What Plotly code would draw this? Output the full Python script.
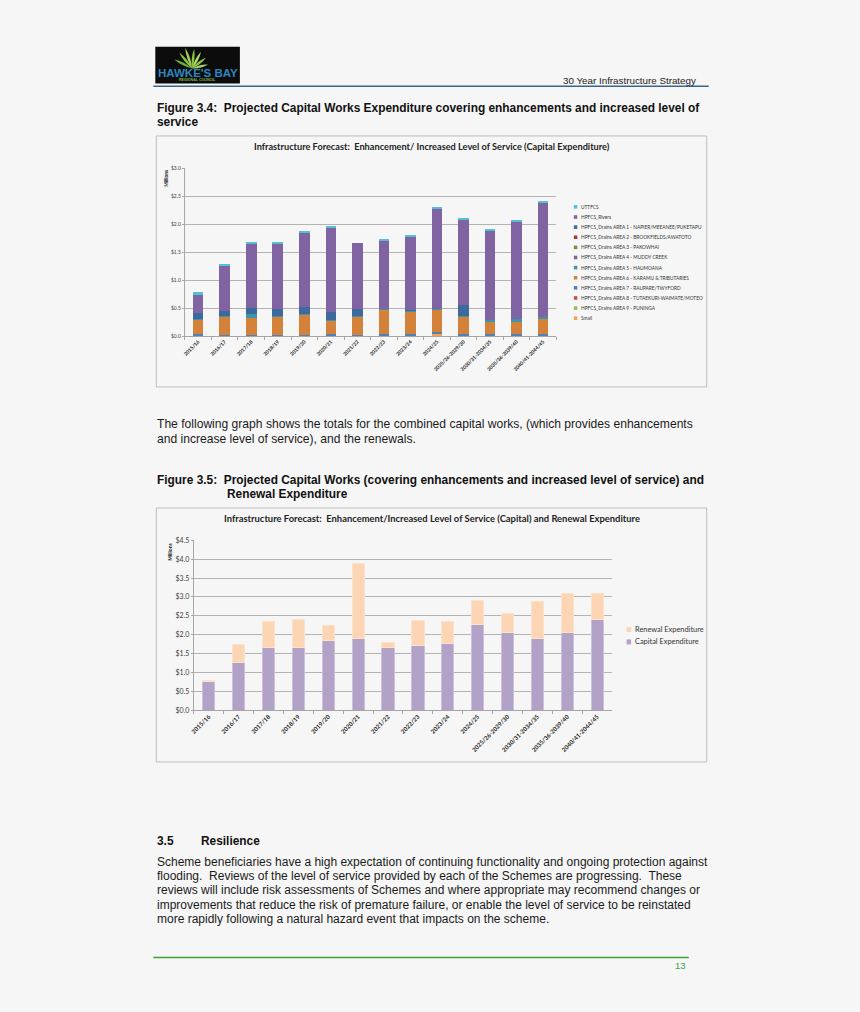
import plotly.graph_objects as go

W, H = 860, 1012
def px(x): return x / W
def py(y): return 1 - y / H

# ---------------- data ----------------
categories = ["2015/16", "2016/17", "2017/18", "2018/19", "2019/20", "2020/21", "2021/22",
              "2022/23", "2023/24", "2024/25", "2025/26-2029/30", "2030/31-2034/35",
              "2035/36-2039/40", "2040/41-2044/45"]

# Figure 3.4 series ($ millions), bottom of stack first
small  = [0, 0, 0, 0, 0, 0, 0, 0, 0, 0.04, 0, 0, 0, 0]
area9  = [0, 0, 0, 0, 0, 0, 0, 0, 0, 0, 0, 0, 0, 0]
area8  = [0, 0, 0, 0, 0, 0, 0, 0, 0, 0, 0, 0, 0, 0]
area7  = [0.03, 0.025, 0.025, 0.025, 0.025, 0.03, 0.025, 0.03, 0.03, 0.025, 0.03, 0.04, 0.03, 0.04]
area6  = [0.255, 0.315, 0.295, 0.315, 0.35, 0.25, 0.315, 0.44, 0.405, 0.41, 0.315, 0.21, 0.23, 0.26]
area5  = [0.015, 0.01, 0.07, 0.015, 0.015, 0.01, 0.015, 0.015, 0.02, 0.015, 0.015, 0.03, 0.04, 0.045]
area4  = [0, 0, 0, 0, 0, 0, 0, 0, 0, 0, 0, 0, 0, 0]
area3  = [0, 0, 0, 0, 0, 0, 0, 0, 0, 0, 0, 0, 0, 0]
area2  = [0, 0, 0, 0, 0, 0, 0, 0, 0, 0, 0, 0, 0, 0]
area1  = [0.105, 0.096, 0.11, 0.125, 0.13, 0.14, 0.125, 0, 0.005, 0, 0.19, 0, 0, 0]
rivers = [0.34, 0.81, 1.15, 1.17, 1.32, 1.50, 1.19, 1.215, 1.31, 1.78, 1.52, 1.605, 1.75, 2.045]
uttfcs = [0.035, 0.035, 0.03, 0.03, 0.04, 0.02, 0.0, 0.03, 0.03, 0.03, 0.02, 0.02, 0.03, 0.02]

series_names = ["Small", "HPFCS_Drains AREA 9 - PUNINGA", "HPFCS_Drains AREA 8 - TUTAEKURI-WAIMATE/MOTEO",
                "HPFCS_Drains AREA 7 - RAUPARE/TWYFORD", "HPFCS_Drains AREA 6 - KARAMU & TRIBUTARIES",
                "HPFCS_Drains AREA 5 - HAUMOANA", "HPFCS_Drains AREA 4 - MUDDY CREEK",
                "HPFCS_Drains AREA 3 - PAKOWHAI", "HPFCS_Drains AREA 2 - BROOKFIELDS/AWATOTO",
                "HPFCS_Drains AREA 1 - NAPIER/MEEANEE/PUKETAPU", "HPFCS_Rivers", "UTTFCS"]
series_vals = [small, area9, area8, area7, area6, area5, area4, area3, area2, area1, rivers, uttfcs]
series_colors = ["#F9A04F", "#9BBB59", "#C0504D", "#4F81BD", "#D4823A", "#3C95AE",
                 "#8064A2", "#77933C", "#A33B38", "#3D6A9E", "#8064A2", "#55BFD8"]

# Figure 3.5 series ($ millions)
capital = [0.77, 1.27, 1.65, 1.65, 1.85, 1.91, 1.65, 1.70, 1.77, 2.27, 2.06, 1.89, 2.05, 2.39]
renewal = [0.01, 0.48, 0.70, 0.74, 0.40, 1.97, 0.15, 0.68, 0.58, 0.64, 0.50, 0.99, 1.05, 0.69]

y1_ticks = [0, 0.5, 1.0, 1.5, 2.0, 2.5, 3.0]
y1_labels = ["$0.0", "$0.5", "$1.0", "$1.5", "$2.0", "$2.5", "$3.0"]
y2_ticks = [0, 0.5, 1.0, 1.5, 2.0, 2.5, 3.0, 3.5, 4.0, 4.5]
y2_labels = ["$0.0", "$0.5", "$1.0", "$1.5", "$2.0", "$2.5", "$3.0", "$3.5", "$4.0", "$4.5"]

BG = "#f6f6f6"
CHART_FONT = "Lato"
BODY_FONT = "Liberation Sans"

fig = go.Figure()

for name, vals, col in zip(series_names, series_vals, series_colors):
    fig.add_trace(go.Bar(x=categories, y=vals, name=name, marker=dict(color=col, line=dict(width=0)),
                         width=0.4, xaxis="x", yaxis="y", showlegend=False))

fig.add_trace(go.Bar(x=categories, y=capital, name="Capital Expenditure",
                     marker=dict(color="#B3A2C7", line=dict(color="#CDC0DC", width=1)),
                     width=0.41, xaxis="x2", yaxis="y2", showlegend=False))
fig.add_trace(go.Bar(x=categories, y=renewal, name="Renewal Expenditure",
                     marker=dict(color="#FCD5B5", line=dict(color="#FDE2CB", width=1)),
                     width=0.41, xaxis="x2", yaxis="y2", showlegend=False))

axis_common = dict(showline=True, linecolor="#a6a6a6", linewidth=1, zeroline=False)

fig.update_layout(
    width=W, height=H, autosize=False,
    margin=dict(l=0, r=0, t=0, b=0),
    paper_bgcolor=BG, plot_bgcolor=BG,
    barmode="stack",
    xaxis=dict(domain=[px(181.7), px(555)], anchor="y", type="category", showgrid=False,
               ticks="outside", tickson="boundaries", ticklen=3, tickcolor="#a6a6a6",
               tickangle=-45, tickfont=dict(family=CHART_FONT, size=5, color="#222", weight="bold"),
               **axis_common),
    yaxis=dict(domain=[py(333.7), py(164.7)], anchor="x", range=[0, 3], tickvals=y1_ticks,
               ticktext=y1_labels, showgrid=True, gridcolor="#b3b3b3", gridwidth=1,
               ticks="outside", ticklen=2, tickcolor="#a6a6a6",
               tickfont=dict(family=CHART_FONT, size=5, color="#404040"), **axis_common),
    xaxis2=dict(domain=[px(190.7), px(611)], anchor="y2", type="category", showgrid=False,
                ticks="outside", tickson="boundaries", ticklen=3, tickcolor="#a6a6a6",
                tickangle=-45, tickfont=dict(family=CHART_FONT, size=6, color="#222", weight="bold"),
                **axis_common),
    yaxis2=dict(domain=[py(710.7), py(539.7)], anchor="x2", range=[0, 4.5], tickvals=y2_ticks,
                ticktext=y2_labels, showgrid=True, gridcolor="#b3b3b3", gridwidth=1,
                ticks="outside", ticklen=2, tickcolor="#a6a6a6",
                tickfont=dict(family=CHART_FONT, size=7, color="#404040"), **axis_common),
)

shapes = []
ann = []

def rect(x0, y0, x1, y1, fill=None, line=None, lw=1):
    shapes.append(dict(type="rect", xref="paper", yref="paper", x0=px(x0), x1=px(x1), y0=py(y1), y1=py(y0),
                       fillcolor=fill if fill else "rgba(0,0,0,0)",
                       line=dict(color=line if line else "rgba(0,0,0,0)", width=lw if line else 0), layer="below"))

def hline(x0, x1, y, color, w):
    shapes.append(dict(type="line", xref="paper", yref="paper", x0=px(x0), x1=px(x1), y0=py(y), y1=py(y),
                       line=dict(color=color, width=w)))

def text(x, y, s, size, color="#111", bold=False, family=BODY_FONT, xanchor="left", angle=0):
    ann.append(dict(x=px(x), y=py(y), xref="paper", yref="paper", text=s, showarrow=False,
                    xanchor=xanchor, yanchor="middle", textangle=angle,
                    font=dict(family=family, size=size, color=color, weight="bold" if bold else "normal")))

# ---------------- header ----------------
rect(152, 42, 237, 79, fill="#0c0c0c")
def leaf(bx, by, tx, ty, w, color):
    mx, my = (bx + tx) / 2, (by + ty) / 2
    dx, dy = tx - bx, ty - by
    L = (dx * dx + dy * dy) ** 0.5
    nx, ny = -dy / L * w, dx / L * w
    p = "M {:.5f},{:.5f} Q {:.5f},{:.5f} {:.5f},{:.5f} Q {:.5f},{:.5f} {:.5f},{:.5f} Z".format(
        px(bx), py(by), px(mx + nx), py(my + ny), px(tx), py(ty), px(mx - nx), py(my - ny), px(bx), py(by))
    shapes.append(dict(type="path", xref="paper", yref="paper", path=p, fillcolor=color, line=dict(width=0)))

for (tx, ty, c) in [(176, 48, "#8cc63f"), (182, 43, "#a6d163"), (191, 44, "#8cc63f"), (198, 47, "#b5d96e"),
                    (203, 53, "#8cc63f"), (171, 55, "#6fae3a"), (205, 60, "#a6d163")]:
    leaf(189, 64, tx, ty, 2.6, c)

text(194.5, 68.5, "HAWKE'S BAY", 11.5, color="#2c86c0", bold=True, xanchor="center")
text(194.5, 76, "REGIONAL COUNCIL", 3.6, color="#7ab648", bold=True, xanchor="center")
text(697, 76, "30 Year Infrastructure Strategy", 9.8, color="#222", xanchor="right")
hline(150, 708, 82, "#3a6587", 1.5)

# ---------------- figure 3.4 ----------------
text(152, 104, "Figure 3.4:  Projected Capital Works Expenditure covering enhancements and increased level of",
     11.9, bold=True)
text(152, 118, "service", 11.9, bold=True)
rect(153, 132, 706, 385, line="#bdbdbd", lw=1)
text(430, 143, "Infrastructure Forecast:  Enhancement/ Increased Level of Service (Capital Expenditure)",
     9.2, color="#222", bold=True, family=CHART_FONT, xanchor="center")
text(162, 175, "Millions", 4.8, color="#222", bold=True, family=CHART_FONT, xanchor="center", angle=-90)

legend_order = list(range(len(series_names)))[::-1]
for i, k in enumerate(legend_order):
    yy = 203.5 + i * 10.2
    rect(572.5, yy - 1.8, 576, yy + 1.8, fill=series_colors[k])
    text(577.5, yy, series_names[k].replace("&", "&amp;"), 4.8, color="#333", family=CHART_FONT)

# ---------------- paragraph ----------------
text(152, 422, "The following graph shows the totals for the combined capital works, (which provides enhancements",
     12.1, color="#1a1a1a")
text(152, 437, "and increase level of service), and the renewals.", 12.1, color="#1a1a1a")

# ---------------- figure 3.5 ----------------
text(152, 479, "Figure 3.5:  Projected Capital Works (covering enhancements and increased level of service) and",
     11.9, bold=True)
text(222, 493, "Renewal Expenditure", 11.9, bold=True)
rect(153, 507, 706, 763, line="#bdbdbd", lw=1)
text(430, 518, "Infrastructure Forecast:  Enhancement/Increased Level of Service (Capital) and Renewal Expenditure",
     9.4, color="#222", bold=True, family=CHART_FONT, xanchor="center")
text(166, 551, "Millions", 5, color="#222", bold=True, family=CHART_FONT, xanchor="center", angle=-90)

for yy, nm, col in [(629.5, "Renewal Expenditure", "#FCD5B5"), (642, "Capital Expenditure", "#B3A2C7")]:
    rect(625.5, yy - 2.5, 630, yy + 2.5, fill=col)
    text(631.5, yy, nm, 7.4, color="#333", family=CHART_FONT)

# ---------------- section 3.5 ----------------
text(152, 843, "3.5", 11.9, bold=True)
text(196, 843, "Resilience", 11.9, bold=True)
para = ["Scheme beneficiaries have a high expectation of continuing functionality and ongoing protection against",
        "flooding.  Reviews of the level of service provided by each of the Schemes are progressing.  These",
        "reviews will include risk assessments of Schemes and where appropriate may recommend changes or",
        "improvements that reduce the risk of premature failure, or enable the level of service to be reinstated",
        "more rapidly following a natural hazard event that impacts on the scheme."]
for i, line in enumerate(para):
    text(152, 863.5 + i * 14.5, line, 12.0, color="#1a1a1a")

# ---------------- footer ----------------
hline(150, 688, 960, "#35a535", 1.5)
text(687, 968, "13", 9.5, color="#35a535", xanchor="right")

fig.update_layout(shapes=shapes, annotations=ann)
fig.write_html("out.html", config={"displayModeBar": False},
               post_script="document.body.style.margin='0';document.body.style.overflow='hidden';")
